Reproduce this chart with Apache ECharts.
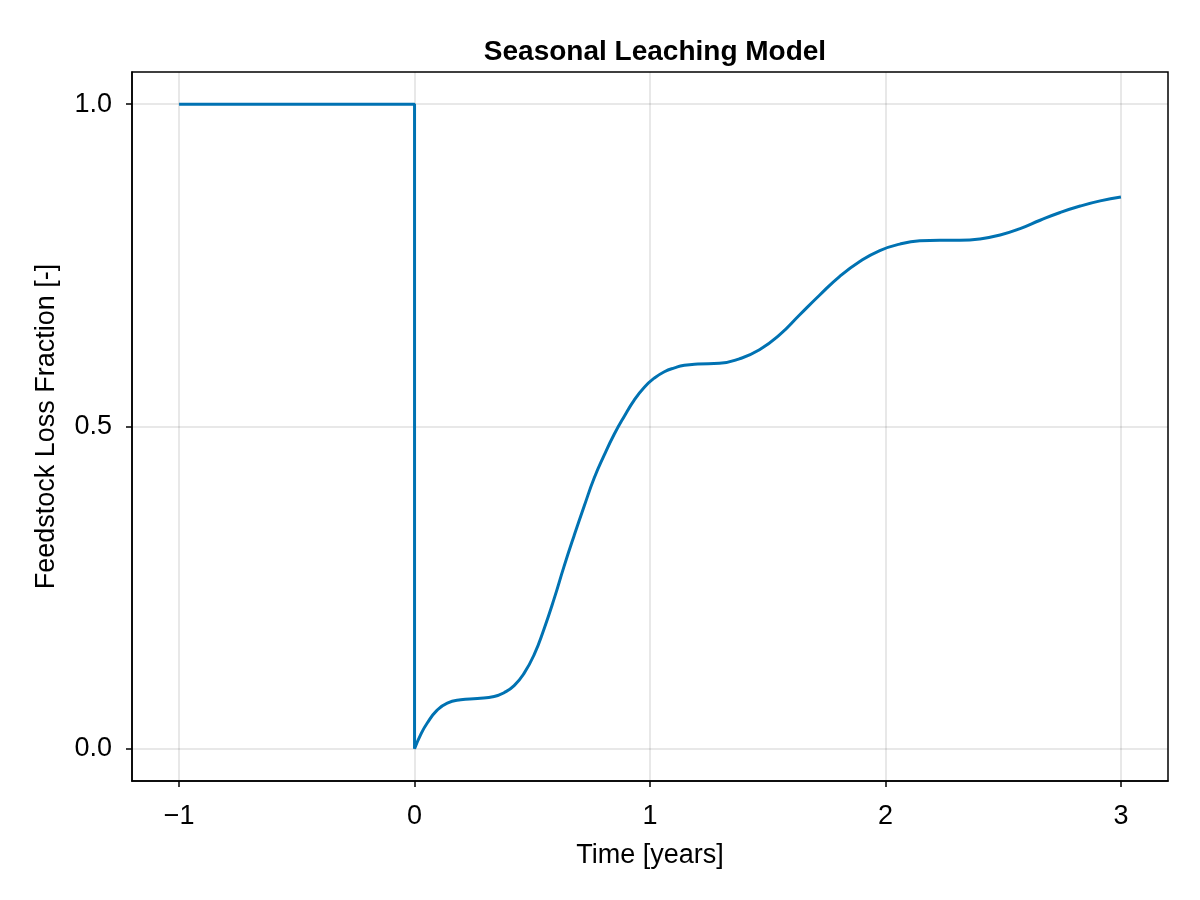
<!DOCTYPE html>
<html>
<head>
<meta charset="utf-8">
<script src="https://cdn.jsdelivr.net/npm/echarts@6/dist/echarts.min.js"></script>
<style>html,body{margin:0;padding:0;background:#fff}#c{width:1200px;height:900px}</style>
</head>
<body>
<div id="c"></div>
<script>
const titleText = "Seasonal Leaching Model";
const xName = "Time [years]";
const yName = "Feedstock Loss Fraction [-]";
const xTicks = [-1, 0, 1, 2, 3];
const yTicks = [0, 0.5, 1.0];
// Before application (constant 1), then drop at t=0
const stepTime = [-1, 0, 0];
const stepFrac = [1, 1, 0];
// Seasonal curve after application
const curveTime = [0, 0.026, 0.054, 0.096, 0.139, 0.196, 0.267, 0.338, 0.380, 0.423, 0.465, 0.508, 0.550, 0.593, 0.635, 0.678, 0.721, 0.763, 0.806, 0.848, 0.891, 0.933, 0.976, 1.018, 1.061, 1.104, 1.146, 1.203, 1.295, 1.380, 1.465, 1.550, 1.635, 1.721, 1.806, 1.891, 1.976, 2.061, 2.146, 2.231, 2.316, 2.401, 2.487, 2.572, 2.657, 2.742, 2.827, 2.912, 3.0];
const curveFrac = [0, 0.022, 0.040, 0.060, 0.071, 0.076, 0.078, 0.081, 0.087, 0.098, 0.117, 0.146, 0.186, 0.233, 0.283, 0.331, 0.377, 0.420, 0.456, 0.488, 0.516, 0.541, 0.561, 0.575, 0.585, 0.591, 0.595, 0.597, 0.598, 0.605, 0.619, 0.642, 0.673, 0.704, 0.733, 0.756, 0.773, 0.783, 0.788, 0.789, 0.789, 0.791, 0.797, 0.807, 0.820, 0.832, 0.842, 0.850, 0.856];

const FONT = "Liberation Sans";
const lineColor = "#0072B2";
const gridColor = "rgba(0,0,0,0.12)";

const chart = echarts.init(document.getElementById('c'), null, {renderer: 'canvas'});
chart.setOption({
  backgroundColor: '#fff',
  animation: false,
  title: {
    text: titleText, left: 650, top: 33, textAlign: 'center',
    textStyle: {fontFamily: FONT, fontSize: 28, fontWeight: 'bold', color: '#000'}
  },
  grid: {left: 132, right: 32, top: 72, bottom: 119, show: true, borderColor: '#000', borderWidth: 1.5, containLabel: false},
  xAxis: {
    type: 'value', min: -1.2, max: 3.2,
    name: xName, nameLocation: 'middle', nameGap: 61,
    nameTextStyle: {fontFamily: FONT, fontSize: 27, color: '#000'},
    axisLine: {show: true, onZero: false, lineStyle: {color: '#000', width: 1.5}},
    axisTick: {show: true, length: 6, lineStyle: {color: '#000', width: 1.5}, customValues: xTicks},
    axisLabel: {fontFamily: FONT, fontSize: 27, color: '#000', margin: 22, customValues: xTicks,
      formatter: v => (v < 0 ? '\u2212' + Math.abs(v) : String(v))},
    splitLine: {show: true, lineStyle: {color: gridColor, width: 1.5}}
  },
  yAxis: {
    type: 'value', min: -0.05, max: 1.05,
    name: yName, nameLocation: 'middle', nameGap: 72, nameRotate: 90,
    nameTextStyle: {fontFamily: FONT, fontSize: 27, color: '#000'},
    axisLine: {show: true, onZero: false, lineStyle: {color: '#000', width: 1.5}},
    axisTick: {show: true, length: 6, lineStyle: {color: '#000', width: 1.5}, customValues: yTicks},
    axisLabel: {fontFamily: FONT, fontSize: 27, color: '#000', margin: 20, customValues: yTicks,
      formatter: v => v.toFixed(1)},
    splitLine: {show: true, lineStyle: {color: gridColor, width: 1.5}}
  },
  series: [
    {
      type: 'line', data: stepTime.map((t, i) => [t, stepFrac[i]]),
      showSymbol: false, lineStyle: {color: lineColor, width: 3}, itemStyle: {color: lineColor}
    },
    {
      type: 'line', smooth: 0.5, data: curveTime.map((t, i) => [t, curveFrac[i]]),
      showSymbol: false, lineStyle: {color: lineColor, width: 3}, itemStyle: {color: lineColor}
    }
  ]
});
</script>
</body>
</html>
